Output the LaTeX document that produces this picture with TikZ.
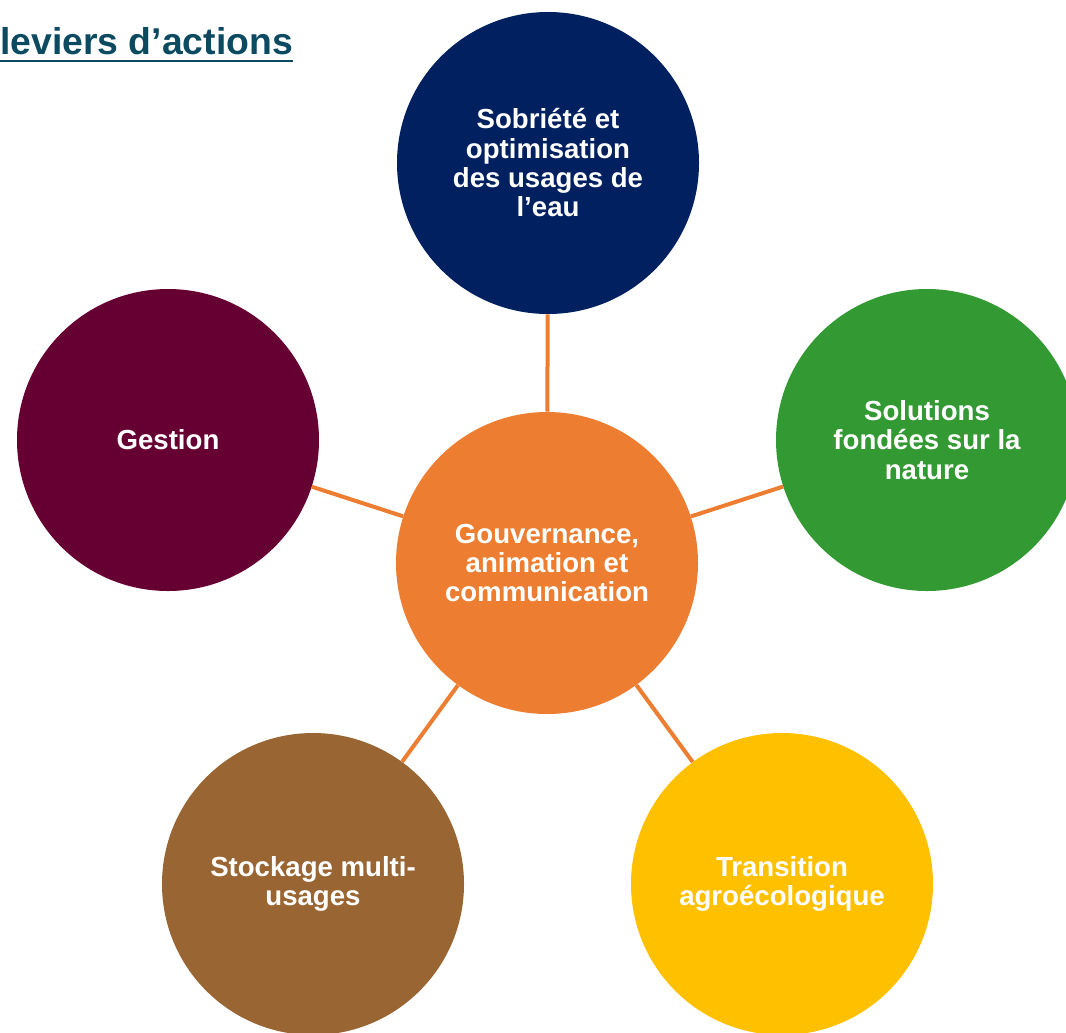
\documentclass[tikz,border=0pt]{standalone}
\usepackage{fontspec}
\setmainfont{Liberation Sans}
\usetikzlibrary{calc}
\usepackage{xcolor}
\definecolor{titlecol}{HTML}{0B4A60}
\definecolor{sobcol}{HTML}{002060}
\definecolor{gescol}{HTML}{660033}
\definecolor{sfncol}{HTML}{339933}
\definecolor{gouvcol}{HTML}{ED7D31}
\definecolor{stocol}{HTML}{996633}
\definecolor{tracol}{HTML}{FFC000}

\begin{document}
\begin{tikzpicture}[x=0.75pt,y=-0.75pt,
    lever/.style={circle,minimum size=226.5pt,inner sep=0pt,align=center,
      text=white,font=\bfseries\fontsize{20.7}{22}\selectfont},
    link/.style={line width=3pt,draw=gouvcol}]
      \useasboundingbox (0,0) rectangle (1066,1032);

      % Title
      \node[anchor=base west,inner sep=0pt,text=titlecol,font=\bfseries\fontsize{28}{30}\selectfont] (title) at (0,54) {leviers d’actions};
      \draw[line width=2pt,titlecol] ($(title.base west)+(0,7)$) -- ($(title.base east)+(0,7)$);

      % Circles
      \node[lever,fill=gouvcol] (gouv) at (547,563) {Gouvernance,\\animation et\\communication};
      \node[lever,fill=sobcol] (sob) at (548,163) {Sobriété et\\optimisation\\des usages de\\l’eau};
      \node[lever,fill=gescol] (ges) at (168,440) {Gestion};
      \node[lever,fill=sfncol] (sfn) at (927,440) {Solutions\\fondées sur la\\nature};
      \node[lever,fill=stocol] (sto) at (313,884) {Stockage multi-\\usages};
      \node[lever,fill=tracol] (tra) at (782,884) {Transition\\agroécologique};

      % Links
      \foreach \n in {sob,sfn,tra,sto,ges}
      {
        \draw[link] (gouv) -- (\n);
      }

\end{tikzpicture}
\end{document}
